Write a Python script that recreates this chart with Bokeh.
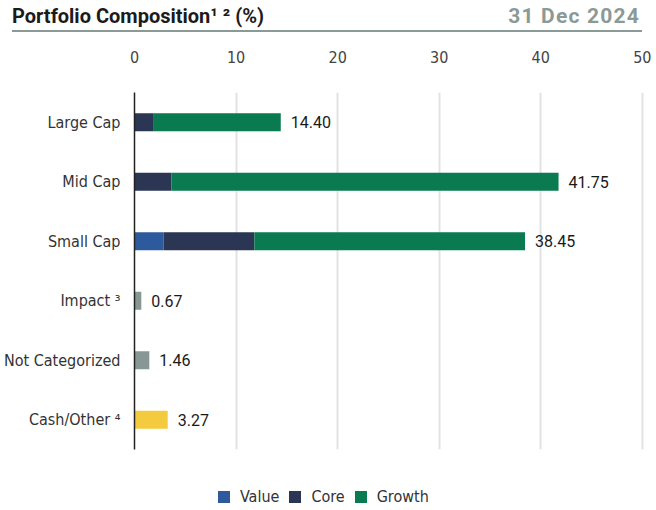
from bokeh.plotting import figure
from bokeh.models import ColumnDataSource, Range1d, FactorRange, Legend, LegendItem, Div
from bokeh.layouts import column
from bokeh.embed import file_html
from bokeh.resources import INLINE
from bokeh.core.properties import value

categories = ["Large Cap", "Mid Cap", "Small Cap", "Impact \u00b3", "Not Categorized", "Cash/Other \u2074"]
value_pct = [0.0, 0.0, 2.85, 0.0, 0.0, 0.0]
core_pct = [1.90, 3.65, 8.95, 0.0, 0.0, 0.0]
growth_pct = [12.50, 38.10, 26.65, 0.0, 0.0, 0.0]
other_pct = [0.0, 0.0, 0.0, 0.67, 1.46, 3.27]
totals = [14.40, 41.75, 38.45, 0.67, 1.46, 3.27]
total_labels = ["14.40", "41.75", "38.45", "0.67", "1.46", "3.27"]
x_ticks = [0, 10, 20, 30, 40, 50]
series_names = ["Value", "Core", "Growth"]
title_text = "Portfolio Composition\u00b9 \u00b2 (%)"
date_text = "31 Dec 2024"

C_VALUE = "#2c5a9c"
C_CORE = "#2a3653"
C_GROWTH = "#0a7a50"
C_GREY = "#879894"
C_YELLOW = "#f4ca3e"
series_colors = [C_VALUE, C_CORE, C_GROWTH]
other_colors = ["#ffffff", "#ffffff", "#ffffff", C_GREY, C_GREY, C_YELLOW]

COND = "DejaVu Sans Condensed"
W = 656

# ---------- header: title, date and rule ----------
header_html = (
    '<div style="display:flex;justify-content:space-between;align-items:center;'
    'box-sizing:border-box;width:630px;height:32px;margin:0 0 0 12px;padding:2px 2px 0 0;'
    'border-bottom:2.5px solid #8a9a96;font-family:Roboto;font-weight:bold;">'
    f'<span style="font-size:20px;color:#1b1b1b;">{title_text}</span>'
    f'<span style="font-size:21px;letter-spacing:1.2px;color:#8a9a96;">{date_text}</span>'
    '</div>'
)
h = Div(text=header_html, width=W, height=34, styles={"margin": "0", "padding": "0"})

# ---------- main chart ----------
src = ColumnDataSource(dict(cat=categories, Value=value_pct, Core=core_pct, Growth=growth_pct,
                            other=other_pct, ocol=other_colors, total=totals, lbl=total_labels))

p = figure(width=W, height=423, y_range=FactorRange(*reversed(categories)),
           x_range=Range1d(0, 51), output_backend="svg", toolbar_location=None,
           x_axis_location="above", min_border_left=134, min_border_right=4,
           min_border_top=58, min_border_bottom=8)

p.hbar_stack(series_names, y="cat", height=0.30, source=src,
             color=series_colors, line_color=None)
p.hbar(y="cat", left=0, right="other", height=0.30, source=src, color="ocol", line_color=None)
p.text(x="total", y="cat", text="lbl", source=src, x_offset=10, text_baseline="middle",
       text_font=value("Roboto"), text_font_size="16px", text_color="#1a1a1a")

p.outline_line_color = None
p.ygrid.visible = False
p.xgrid.ticker = x_ticks
p.xgrid.grid_line_color = "#e2e2e2"
p.xgrid.grid_line_width = 2

xa = p.xaxis[0]
xa.ticker = x_ticks
xa.axis_line_color = None
xa.major_tick_line_color = None
xa.minor_tick_line_color = None
xa.major_label_standoff = 24
xa.major_label_text_font = COND
xa.major_label_text_font_size = "16px"
xa.major_label_text_color = "#444444"

ya = p.yaxis[0]
ya.axis_line_color = "#222222"
ya.axis_line_width = 1.5
ya.major_tick_line_color = None
ya.minor_tick_line_color = None
ya.major_label_standoff = 8
ya.major_label_text_font = COND
ya.major_label_text_font_size = "16px"
ya.major_label_text_color = "#333333"

# ---------- footer: legend (frame is aligned with the chart frame) ----------
f = figure(width=W, height=53, x_range=Range1d(0, 1), y_range=Range1d(0, 1),
           x_axis_type=None, y_axis_type=None, output_backend="svg", toolbar_location=None,
           min_border_left=0, min_border_right=0, min_border_top=0, min_border_bottom=0)
f.grid.visible = False
f.outline_line_color = None
proxies = [f.hbar(y=[-10], left=[0], right=[1], height=1, color=c, line_color=None)
           for c in series_colors]
legend = Legend(items=[LegendItem(label=n, renderers=[r]) for n, r in zip(series_names, proxies)],
                orientation="horizontal", location=(82, 4), glyph_width=15, glyph_height=15,
                label_text_font=COND, label_text_font_size="16px", label_text_color="#333333",
                border_line_color=None, background_fill_alpha=0, spacing=8, label_standoff=9,
                padding=0, margin=0)
f.add_layout(legend, "center")

layout = column(h, p, f, spacing=0)
open("out.html", "w").write(file_html(layout, INLINE))
